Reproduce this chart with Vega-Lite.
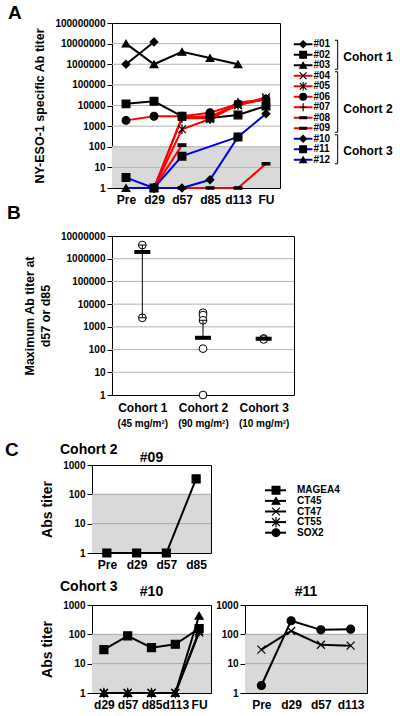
{
"$schema": "https://vega.github.io/schema/vega-lite/v6.json",
"padding": {"left": 5, "top": 3, "right": 0, "bottom": 0},
"config": {
  "font": "Liberation Sans",
  "view": {"stroke": "black", "strokeWidth": 1},
  "axis": {"labelFont": "Liberation Sans", "titleFont": "Liberation Sans", "labelFontWeight": "bold", "titleFontWeight": "bold", "labelColor": "black", "titleColor": "black", "tickColor": "black", "domain": false, "grid": false},
  "title": {"font": "Liberation Sans", "fontWeight": "bold", "color": "black"}
},
"datasets": {
  "A": [
    {"s": "#01", "c": "Cohort 1", "t": "Pre", "v": 1000000},
    {"s": "#01", "c": "Cohort 1", "t": "d29", "v": 12000000},
    {"s": "#02", "c": "Cohort 1", "t": "Pre", "v": 12000},
    {"s": "#02", "c": "Cohort 1", "t": "d29", "v": 16000},
    {"s": "#02", "c": "Cohort 1", "t": "d57", "v": 3000},
    {"s": "#02", "c": "Cohort 1", "t": "d85", "v": 2500},
    {"s": "#02", "c": "Cohort 1", "t": "d113", "v": 3500},
    {"s": "#02", "c": "Cohort 1", "t": "FU", "v": 9500},
    {"s": "#03", "c": "Cohort 1", "t": "Pre", "v": 10000000},
    {"s": "#03", "c": "Cohort 1", "t": "d29", "v": 1000000},
    {"s": "#03", "c": "Cohort 1", "t": "d57", "v": 4000000},
    {"s": "#03", "c": "Cohort 1", "t": "d85", "v": 2000000},
    {"s": "#03", "c": "Cohort 1", "t": "d113", "v": 1000000},
    {"s": "#04", "c": "Cohort 2", "t": "d29", "v": 1},
    {"s": "#04", "c": "Cohort 2", "t": "d57", "v": 2800},
    {"s": "#04", "c": "Cohort 2", "t": "d85", "v": 3000},
    {"s": "#04", "c": "Cohort 2", "t": "d113", "v": 10000},
    {"s": "#04", "c": "Cohort 2", "t": "FU", "v": 25000},
    {"s": "#05", "c": "Cohort 2", "t": "d29", "v": 1},
    {"s": "#05", "c": "Cohort 2", "t": "d57", "v": 700},
    {"s": "#05", "c": "Cohort 2", "t": "d85", "v": 2200},
    {"s": "#05", "c": "Cohort 2", "t": "d113", "v": 11000},
    {"s": "#05", "c": "Cohort 2", "t": "FU", "v": 20000},
    {"s": "#06", "c": "Cohort 2", "t": "Pre", "v": 1900},
    {"s": "#06", "c": "Cohort 2", "t": "d29", "v": 3000},
    {"s": "#06", "c": "Cohort 2", "t": "d57", "v": 3000},
    {"s": "#06", "c": "Cohort 2", "t": "d85", "v": 4500},
    {"s": "#06", "c": "Cohort 2", "t": "d113", "v": 12000},
    {"s": "#06", "c": "Cohort 2", "t": "FU", "v": 20000},
    {"s": "#07", "c": "Cohort 2", "t": "d29", "v": 1},
    {"s": "#07", "c": "Cohort 2", "t": "d57", "v": 2400},
    {"s": "#07", "c": "Cohort 2", "t": "d85", "v": 2400},
    {"s": "#07", "c": "Cohort 2", "t": "d113", "v": 14000},
    {"s": "#07", "c": "Cohort 2", "t": "FU", "v": 20000},
    {"s": "#08", "c": "Cohort 2", "t": "d29", "v": 1},
    {"s": "#08", "c": "Cohort 2", "t": "d57", "v": 120},
    {"s": "#09", "c": "Cohort 2", "t": "d57", "v": 1},
    {"s": "#09", "c": "Cohort 2", "t": "d85", "v": 1},
    {"s": "#09", "c": "Cohort 2", "t": "d113", "v": 1},
    {"s": "#09", "c": "Cohort 2", "t": "FU", "v": 15},
    {"s": "#10", "c": "Cohort 3", "t": "d29", "v": 1},
    {"s": "#10", "c": "Cohort 3", "t": "d57", "v": 1},
    {"s": "#10", "c": "Cohort 3", "t": "d85", "v": 2.5},
    {"s": "#10", "c": "Cohort 3", "t": "d113", "v": 300},
    {"s": "#10", "c": "Cohort 3", "t": "FU", "v": 4000},
    {"s": "#11", "c": "Cohort 3", "t": "Pre", "v": 3.2},
    {"s": "#11", "c": "Cohort 3", "t": "d29", "v": 1},
    {"s": "#11", "c": "Cohort 3", "t": "d57", "v": 35},
    {"s": "#11", "c": "Cohort 3", "t": "d113", "v": 300},
    {"s": "#12", "c": "Cohort 3", "t": "Pre", "v": 1},
    {"s": "#12", "c": "Cohort 3", "t": "d29", "v": 1}
  ],
  "legA": [
    {"s": "#01", "c": "Cohort 1"}, {"s": "#02", "c": "Cohort 1"}, {"s": "#03", "c": "Cohort 1"},
    {"s": "#04", "c": "Cohort 2"}, {"s": "#05", "c": "Cohort 2"}, {"s": "#06", "c": "Cohort 2"},
    {"s": "#07", "c": "Cohort 2"}, {"s": "#08", "c": "Cohort 2"}, {"s": "#09", "c": "Cohort 2"},
    {"s": "#10", "c": "Cohort 3"}, {"s": "#11", "c": "Cohort 3"}, {"s": "#12", "c": "Cohort 3"}
  ],
  "cohA": [
    {"c": "Cohort 1", "first": "#01", "last": "#03", "mid": "#02"},
    {"c": "Cohort 2", "first": "#04", "last": "#09", "mid": "#07"},
    {"c": "Cohort 3", "first": "#10", "last": "#12", "mid": "#11"}
  ],
  "Bpts": [
    {"c": "Cohort 1", "v": 4000000},
    {"c": "Cohort 1", "v": 2500},
    {"c": "Cohort 2", "v": 4200},
    {"c": "Cohort 2", "v": 3300},
    {"c": "Cohort 2", "v": 1950},
    {"c": "Cohort 2", "v": 110},
    {"c": "Cohort 2", "v": 1},
    {"c": "Cohort 3", "v": 310},
    {"c": "Cohort 3", "v": 280}
  ],
  "Bsum": [
    {"c": "Cohort 1", "dose": "(45 mg/m²)", "med": 2000000, "lo": 2500, "hi": 4000000},
    {"c": "Cohort 2", "dose": "(90 mg/m²)", "med": 330, "lo": 330, "hi": 1950},
    {"c": "Cohort 3", "dose": "(10 mg/m²)", "med": 300, "lo": 300, "hi": 300}
  ],
  "C09": [
    {"ag": "MAGEA4", "t": "Pre", "v": 1},
    {"ag": "MAGEA4", "t": "d29", "v": 1},
    {"ag": "MAGEA4", "t": "d57", "v": 1},
    {"ag": "MAGEA4", "t": "d85", "v": 335}
  ],
  "C10": [
    {"ag": "CT45", "t": "d29", "v": 1}, {"ag": "CT45", "t": "d57", "v": 1}, {"ag": "CT45", "t": "d85", "v": 1}, {"ag": "CT45", "t": "d113", "v": 1}, {"ag": "CT45", "t": "FU", "v": 430},
    {"ag": "CT47", "t": "d29", "v": 1}, {"ag": "CT47", "t": "d57", "v": 1}, {"ag": "CT47", "t": "d85", "v": 1}, {"ag": "CT47", "t": "d113", "v": 1}, {"ag": "CT47", "t": "FU", "v": 115},
    {"ag": "CT55", "t": "d29", "v": 1}, {"ag": "CT55", "t": "d57", "v": 1}, {"ag": "CT55", "t": "d85", "v": 1}, {"ag": "CT55", "t": "d113", "v": 1}, {"ag": "CT55", "t": "FU", "v": 130},
    {"ag": "MAGEA4", "t": "d29", "v": 30}, {"ag": "MAGEA4", "t": "d57", "v": 89}, {"ag": "MAGEA4", "t": "d85", "v": 35}, {"ag": "MAGEA4", "t": "d113", "v": 46}, {"ag": "MAGEA4", "t": "FU", "v": 158}
  ],
  "C11": [
    {"ag": "CT47", "t": "Pre", "v": 30}, {"ag": "CT47", "t": "d29", "v": 130}, {"ag": "CT47", "t": "d57", "v": 44}, {"ag": "CT47", "t": "d113", "v": 41},
    {"ag": "SOX2", "t": "Pre", "v": 1.8}, {"ag": "SOX2", "t": "d29", "v": 290}, {"ag": "SOX2", "t": "d57", "v": 142}, {"ag": "SOX2", "t": "d113", "v": 150}
  ],
  "legC": [{"ag": "MAGEA4"}, {"ag": "CT45"}, {"ag": "CT47"}, {"ag": "CT55"}, {"ag": "SOX2"}],
  "gridA": [{"g": 10}, {"g": 100}, {"g": 1000}, {"g": 10000}, {"g": 100000}, {"g": 1000000}, {"g": 10000000}],
  "gridB": [{"g": 10}, {"g": 100}, {"g": 1000}, {"g": 10000}, {"g": 100000}, {"g": 1000000}],
  "gridC": [{"g": 10}, {"g": 100}],
  "shade": [{"lo": 1, "hi": 100}]
},
"concat": [
  {
    "hconcat": [
      {"width": 1, "height": 1, "view": {"stroke": null}, "data": {"values": [{}]}, "mark": {"type": "point", "opacity": 0}},
      {
        "concat": [
          {
            "hconcat": [
              {
                "width": 168, "height": 165,
                "title": {"text": "A", "anchor": "start", "frame": "group", "dx": -104, "fontSize": 19, "offset": -5},
                "layer": [
                  {"data": {"name": "shade"}, "mark": {"type": "rect", "color": "#d9d9d9"},
                   "encoding": {"y": {"field": "lo", "type": "quantitative", "title": "NY-ESO-1 specific Ab titer", "scale": {"type": "log", "domain": [1, 100000000]},
                     "axis": {"values": [1, 10, 100, 1000, 10000, 100000, 1000000, 10000000, 100000000], "format": "d", "labelFontSize": 10, "tickSize": 5, "labelPadding": 2, "titleFontSize": 12.5, "titlePadding": 8}},
                     "y2": {"field": "hi"}}},
                  {"data": {"name": "gridA"}, "mark": {"type": "rule", "color": "#b3b3b3", "strokeWidth": 1},
                   "encoding": {"y": {"field": "g", "type": "quantitative", "title": "NY-ESO-1 specific Ab titer"}}},
                  {"data": {"name": "A"}, "mark": {"type": "line", "strokeWidth": 2},
                   "encoding": {
                     "x": {"field": "t", "type": "ordinal", "scale": {"type": "point", "domain": ["Pre", "d29", "d57", "d85", "d113", "FU"], "padding": 0.5},
                       "axis": {"title": null, "labelFontSize": 12, "labelAngle": 0, "ticks": false, "labelPadding": 6}},
                     "y": {"field": "v", "type": "quantitative", "title": "NY-ESO-1 specific Ab titer"},
                     "color": {"field": "c", "type": "nominal", "scale": {"domain": ["Cohort 1", "Cohort 2", "Cohort 3"], "range": ["#000000", "#ff0000", "#0000e0"]}, "legend": null},
                     "detail": {"field": "s"},
                     "order": {"value": null}}},
                  {"data": {"name": "A"}, "mark": {"type": "point", "filled": true, "fill": "black", "stroke": "black", "strokeWidth": 1.2, "size": 60, "opacity": 1},
                   "encoding": {
                     "x": {"field": "t", "type": "ordinal"},
                     "y": {"field": "v", "type": "quantitative", "title": "NY-ESO-1 specific Ab titer"},
                     "shape": {"field": "s", "type": "nominal", "legend": null, "scale": {"domain": ["#01", "#02", "#03", "#04", "#05", "#06", "#07", "#08", "#09", "#10", "#11", "#12"],
                       "range": ["diamond", "square", "triangle-up", "M-1,-1L1,1M-1,1L1,-1", "M-1,-1L1,1M-1,1L1,-1M0,-1.3L0,1.3", "circle", "M-1,0L1,0M0,-1.2L0,1.2", "M-1,-0.3L1,-0.3L1,0.3L-1,0.3Z", "M-1,-0.3L1,-0.3L1,0.3L-1,0.3Z", "diamond", "square", "triangle-up"]}}}}
                ]
              },
              {
                "width": 112, "height": 165, "view": {"stroke": null},
                "layer": [
                  {"data": {"name": "legA"}, "mark": {"type": "rule", "strokeWidth": 2},
                   "encoding": {
                     "x": {"datum": 3, "type": "quantitative", "scale": {"domain": [0, 112]}, "axis": null},
                     "x2": {"datum": 23},
                     "y": {"field": "s", "type": "ordinal", "scale": {"type": "point", "domain": ["#01", "#02", "#03", "#04", "#05", "#06", "#07", "#08", "#09", "#10", "#11", "#12"], "range": [16, 142]}, "axis": null},
                     "color": {"field": "c", "type": "nominal", "scale": {"domain": ["Cohort 1", "Cohort 2", "Cohort 3"], "range": ["#000000", "#ff0000", "#0000e0"]}, "legend": null}}},
                  {"data": {"name": "legA"}, "mark": {"type": "point", "filled": true, "fill": "black", "stroke": "black", "strokeWidth": 1.2, "size": 45, "opacity": 1},
                   "encoding": {
                     "x": {"datum": 13, "type": "quantitative"},
                     "y": {"field": "s", "type": "ordinal"},
                     "shape": {"field": "s", "type": "nominal", "legend": null, "scale": {"domain": ["#01", "#02", "#03", "#04", "#05", "#06", "#07", "#08", "#09", "#10", "#11", "#12"],
                       "range": ["diamond", "square", "triangle-up", "M-1,-1L1,1M-1,1L1,-1", "M-1,-1L1,1M-1,1L1,-1M0,-1.3L0,1.3", "circle", "M-1,0L1,0M0,-1.2L0,1.2", "M-1,-0.3L1,-0.3L1,0.3L-1,0.3Z", "M-1,-0.3L1,-0.3L1,0.3L-1,0.3Z", "diamond", "square", "triangle-up"]}}}},
                  {"data": {"name": "legA"}, "mark": {"type": "text", "align": "left", "baseline": "middle", "fontSize": 10, "fontWeight": "bold", "font": "Liberation Sans", "color": "black"},
                   "encoding": {"x": {"datum": 24, "type": "quantitative"}, "y": {"field": "s", "type": "ordinal"}, "text": {"field": "s"}}},
                  {"data": {"name": "cohA"}, "mark": {"type": "rule", "color": "black", "strokeWidth": 1, "yOffset": -4, "y2Offset": 4},
                   "encoding": {"x": {"datum": 50, "type": "quantitative"}, "y": {"field": "first", "type": "ordinal"}, "y2": {"field": "last"}}},
                  {"data": {"name": "cohA"}, "mark": {"type": "rule", "color": "black", "strokeWidth": 1, "yOffset": -4},
                   "encoding": {"x": {"datum": 47, "type": "quantitative"}, "x2": {"datum": 50}, "y": {"field": "first", "type": "ordinal"}}},
                  {"data": {"name": "cohA"}, "mark": {"type": "rule", "color": "black", "strokeWidth": 1, "yOffset": 4},
                   "encoding": {"x": {"datum": 47, "type": "quantitative"}, "x2": {"datum": 50}, "y": {"field": "last", "type": "ordinal"}}},
                  {"data": {"name": "cohA"}, "mark": {"type": "text", "align": "left", "baseline": "middle", "fontSize": 12, "fontWeight": "bold", "font": "Liberation Sans", "color": "black", "dy": 2},
                   "encoding": {"x": {"datum": 56, "type": "quantitative"}, "y": {"field": "mid", "type": "ordinal"}, "text": {"field": "c"}}}
                ]
              }
            ],
            "spacing": 10,
            "resolve": {"scale": {"shape": "independent", "color": "independent"}}
          },
          {
            "width": 182, "height": 159,
            "title": {"text": "B", "anchor": "start", "frame": "group", "dx": -105, "fontSize": 19, "offset": 8},
            "layer": [
              {
                "layer": [
                  {"data": {"name": "gridB"}, "mark": {"type": "rule", "color": "#b3b3b3", "strokeWidth": 1},
                   "encoding": {"y": {"field": "g", "type": "quantitative", "title": ["Maximum Ab titer at", "d57 or d85"], "scale": {"type": "log", "domain": [1, 10000000]},
                     "axis": {"values": [1, 10, 100, 1000, 10000, 100000, 1000000, 10000000], "format": "d", "labelFontSize": 10, "tickSize": 5, "labelPadding": 2, "titleFontSize": 12.5, "titlePadding": 8, "titleLineHeight": 16}}}},
                  {"data": {"name": "Bpts"}, "mark": {"type": "point", "filled": false, "fill": "white", "stroke": "black", "strokeWidth": 1, "size": 60, "opacity": 1},
                   "encoding": {
                     "x": {"field": "c", "type": "ordinal", "scale": {"type": "point", "domain": ["Cohort 1", "Cohort 2", "Cohort 3"], "padding": 0.5},
                       "axis": {"title": null, "labelFontSize": 12, "labelAngle": 0, "ticks": false, "labelPadding": 7, "orient": "bottom"}},
                     "y": {"field": "v", "type": "quantitative", "title": ["Maximum Ab titer at", "d57 or d85"]}}},
                  {"data": {"name": "Bsum"}, "mark": {"type": "rule", "color": "black", "strokeWidth": 1},
                   "encoding": {"x": {"field": "c", "type": "ordinal"}, "y": {"field": "lo", "type": "quantitative", "title": ["Maximum Ab titer at", "d57 or d85"]}, "y2": {"field": "hi"}}},
                  {"data": {"name": "Bsum"}, "mark": {"type": "tick", "color": "black", "size": 8, "thickness": 1, "opacity": 1},
                   "encoding": {"x": {"field": "c", "type": "ordinal"}, "y": {"field": "lo", "type": "quantitative", "title": ["Maximum Ab titer at", "d57 or d85"]}}},
                  {"data": {"name": "Bsum"}, "mark": {"type": "tick", "color": "black", "size": 8, "thickness": 1, "opacity": 1},
                   "encoding": {"x": {"field": "c", "type": "ordinal"}, "y": {"field": "hi", "type": "quantitative", "title": ["Maximum Ab titer at", "d57 or d85"]}}},
                  {"data": {"name": "Bsum"}, "mark": {"type": "tick", "color": "black", "size": 16, "thickness": 4, "opacity": 1},
                   "encoding": {"x": {"field": "c", "type": "ordinal"}, "y": {"field": "med", "type": "quantitative", "title": ["Maximum Ab titer at", "d57 or d85"]}}}
                ]
              },
              {"data": {"name": "Bsum"}, "mark": {"type": "point", "opacity": 0},
               "encoding": {
                 "x": {"field": "dose", "type": "ordinal", "scale": {"type": "point", "domain": ["(45 mg/m²)", "(90 mg/m²)", "(10 mg/m²)"], "padding": 0.5},
                   "axis": {"title": null, "labelFontSize": 10, "labelAngle": 0, "ticks": false, "labelPadding": 23, "orient": "bottom"}},
                 "y": {"field": "med", "type": "quantitative", "title": ["Maximum Ab titer at", "d57 or d85"]}}}
            ],
            "resolve": {"scale": {"x": "independent"}, "axis": {"x": "independent"}}
          }
        ],
        "columns": 1, "align": "none", "spacing": -3,
        "resolve": {"scale": {"shape": "independent", "color": "independent"}}
      }
    ],
    "spacing": -90,
    "resolve": {"scale": {"shape": "independent", "color": "independent"}}
  },
  {
    "title": {"text": "C", "anchor": "start", "frame": "group", "dx": -87, "fontSize": 19, "offset": 0, "dy": 17},
    "concat": [
      {
        "title": {"text": "Cohort 2", "anchor": "start", "frame": "group", "dx": -32, "fontSize": 14, "offset": 0, "dy": 6},
        "hconcat": [
          {
            "width": 119, "height": 88,
            "title": {"text": "#09", "fontSize": 14, "offset": -5},
            "layer": [
              {"data": {"name": "shade"}, "mark": {"type": "rect", "color": "#d9d9d9"},
               "encoding": {"y": {"field": "lo", "type": "quantitative", "title": "Abs titer", "scale": {"type": "log", "domain": [1, 1000]},
                 "axis": {"values": [1, 10, 100, 1000], "format": "d", "labelFontSize": 10, "tickSize": 5, "labelPadding": 2, "titleFontSize": 14, "titlePadding": 8}},
                 "y2": {"field": "hi"}}},
              {"data": {"name": "gridC"}, "mark": {"type": "rule", "color": "#a6a6a6", "strokeWidth": 1},
               "encoding": {"y": {"field": "g", "type": "quantitative", "title": "Abs titer"}}},
              {"data": {"name": "C09"}, "mark": {"type": "line", "strokeWidth": 2, "color": "black"},
               "encoding": {
                 "x": {"field": "t", "type": "ordinal", "scale": {"type": "point", "domain": ["Pre", "d29", "d57", "d85"], "padding": 0.5},
                   "axis": {"title": null, "labelFontSize": 12, "labelAngle": 0, "ticks": false, "labelPadding": 6}},
                 "y": {"field": "v", "type": "quantitative", "title": "Abs titer"},
                 "detail": {"field": "ag"},
                 "order": {"value": null}}},
              {"data": {"name": "C09"}, "mark": {"type": "point", "filled": true, "fill": "black", "stroke": "black", "strokeWidth": 1.2, "size": 64, "opacity": 1},
               "encoding": {
                 "x": {"field": "t", "type": "ordinal"},
                 "y": {"field": "v", "type": "quantitative", "title": "Abs titer"},
                 "shape": {"field": "ag", "type": "nominal", "legend": null, "scale": {"domain": ["MAGEA4", "CT45", "CT47", "CT55", "SOX2"], "range": ["square", "triangle-up", "M-1,-1L1,1M-1,1L1,-1", "M-1,-1L1,1M-1,1L1,-1M0,-1.3L0,1.3", "circle"]}}}}
            ]
          },
          {
            "width": 100, "height": 88, "view": {"stroke": null},
            "layer": [
              {"data": {"name": "legC"}, "mark": {"type": "rule", "strokeWidth": 2, "color": "black"},
               "encoding": {
                 "x": {"datum": 8, "type": "quantitative", "scale": {"domain": [0, 100]}, "axis": null},
                 "x2": {"datum": 29},
                 "y": {"field": "ag", "type": "ordinal", "scale": {"type": "point", "domain": ["MAGEA4", "CT45", "CT47", "CT55", "SOX2"], "range": [20, 73]}, "axis": null}}},
              {"data": {"name": "legC"}, "mark": {"type": "point", "filled": true, "fill": "black", "stroke": "black", "strokeWidth": 1.2, "size": 60, "opacity": 1},
               "encoding": {
                 "x": {"datum": 19, "type": "quantitative"},
                 "y": {"field": "ag", "type": "ordinal"},
                 "shape": {"field": "ag", "type": "nominal", "legend": null, "scale": {"domain": ["MAGEA4", "CT45", "CT47", "CT55", "SOX2"], "range": ["square", "triangle-up", "M-1,-1L1,1M-1,1L1,-1", "M-1,-1L1,1M-1,1L1,-1M0,-1.3L0,1.3", "circle"]}}}},
              {"data": {"name": "legC"}, "mark": {"type": "text", "align": "left", "baseline": "middle", "fontSize": 10, "fontWeight": "bold", "font": "Liberation Sans", "color": "black"},
               "encoding": {"x": {"datum": 40, "type": "quantitative"}, "y": {"field": "ag", "type": "ordinal"}, "text": {"field": "ag"}}}
            ]
          }
        ],
        "spacing": 45,
        "resolve": {"scale": {"shape": "independent", "color": "independent"}}
      },
      {
        "title": {"text": "Cohort 3", "anchor": "start", "frame": "group", "dx": -32, "fontSize": 14, "offset": 0, "dy": 9},
        "hconcat": [
          {
            "width": 119, "height": 88,
            "title": {"text": "#10", "fontSize": 14, "offset": 1},
            "layer": [
              {"data": {"name": "shade"}, "mark": {"type": "rect", "color": "#d9d9d9"},
               "encoding": {"y": {"field": "lo", "type": "quantitative", "title": "Abs titer", "scale": {"type": "log", "domain": [1, 1000]},
                 "axis": {"values": [1, 10, 100, 1000], "format": "d", "labelFontSize": 10, "tickSize": 5, "labelPadding": 2, "titleFontSize": 14, "titlePadding": 8}},
                 "y2": {"field": "hi"}}},
              {"data": {"name": "gridC"}, "mark": {"type": "rule", "color": "#a6a6a6", "strokeWidth": 1},
               "encoding": {"y": {"field": "g", "type": "quantitative", "title": "Abs titer"}}},
              {"data": {"name": "C10"}, "mark": {"type": "line", "strokeWidth": 2, "color": "black"},
               "encoding": {
                 "x": {"field": "t", "type": "ordinal", "scale": {"type": "point", "domain": ["d29", "d57", "d85", "d113", "FU"], "padding": 0.5},
                   "axis": {"title": null, "labelFontSize": 12, "labelAngle": 0, "ticks": false, "labelPadding": 6}},
                 "y": {"field": "v", "type": "quantitative", "title": "Abs titer"},
                 "detail": {"field": "ag"},
                 "order": {"value": null}}},
              {"data": {"name": "C10"}, "mark": {"type": "point", "filled": true, "fill": "black", "stroke": "black", "strokeWidth": 1.2, "size": 64, "opacity": 1},
               "encoding": {
                 "x": {"field": "t", "type": "ordinal"},
                 "y": {"field": "v", "type": "quantitative", "title": "Abs titer"},
                 "shape": {"field": "ag", "type": "nominal", "legend": null, "scale": {"domain": ["MAGEA4", "CT45", "CT47", "CT55", "SOX2"], "range": ["square", "triangle-up", "M-1,-1L1,1M-1,1L1,-1", "M-1,-1L1,1M-1,1L1,-1M0,-1.3L0,1.3", "circle"]}}}}
            ]
          },
          {
            "width": 122, "height": 88,
            "title": {"text": "#11", "fontSize": 14, "offset": 1},
            "layer": [
              {"data": {"name": "shade"}, "mark": {"type": "rect", "color": "#d9d9d9"},
               "encoding": {"y": {"field": "lo", "type": "quantitative", "title": null, "scale": {"type": "log", "domain": [1, 1000]},
                 "axis": {"values": [1, 10, 100, 1000], "format": "d", "labelFontSize": 10, "tickSize": 5, "labelPadding": 2, "title": null}},
                 "y2": {"field": "hi"}}},
              {"data": {"name": "gridC"}, "mark": {"type": "rule", "color": "#a6a6a6", "strokeWidth": 1},
               "encoding": {"y": {"field": "g", "type": "quantitative", "title": null}}},
              {"data": {"name": "C11"}, "mark": {"type": "line", "strokeWidth": 2, "color": "black"},
               "encoding": {
                 "x": {"field": "t", "type": "ordinal", "scale": {"type": "point", "domain": ["Pre", "d29", "d57", "d113"], "padding": 0.55},
                   "axis": {"title": null, "labelFontSize": 12, "labelAngle": 0, "ticks": false, "labelPadding": 6}},
                 "y": {"field": "v", "type": "quantitative", "title": null},
                 "detail": {"field": "ag"},
                 "order": {"value": null}}},
              {"data": {"name": "C11"}, "mark": {"type": "point", "filled": true, "fill": "black", "stroke": "black", "strokeWidth": 1.2, "size": 64, "opacity": 1},
               "encoding": {
                 "x": {"field": "t", "type": "ordinal"},
                 "y": {"field": "v", "type": "quantitative", "title": null},
                 "shape": {"field": "ag", "type": "nominal", "legend": null, "scale": {"domain": ["MAGEA4", "CT45", "CT47", "CT55", "SOX2"], "range": ["square", "triangle-up", "M-1,-1L1,1M-1,1L1,-1", "M-1,-1L1,1M-1,1L1,-1M0,-1.3L0,1.3", "circle"]}}}}
            ]
          }
        ],
        "spacing": 3,
        "resolve": {"scale": {"shape": "independent", "color": "independent"}}
      }
    ],
    "columns": 1, "align": "none", "spacing": 8,
    "resolve": {"scale": {"shape": "independent", "color": "independent"}}
  }
],
"columns": 1, "align": "none", "spacing": 11,
"resolve": {"scale": {"shape": "independent", "color": "independent"}}
}
